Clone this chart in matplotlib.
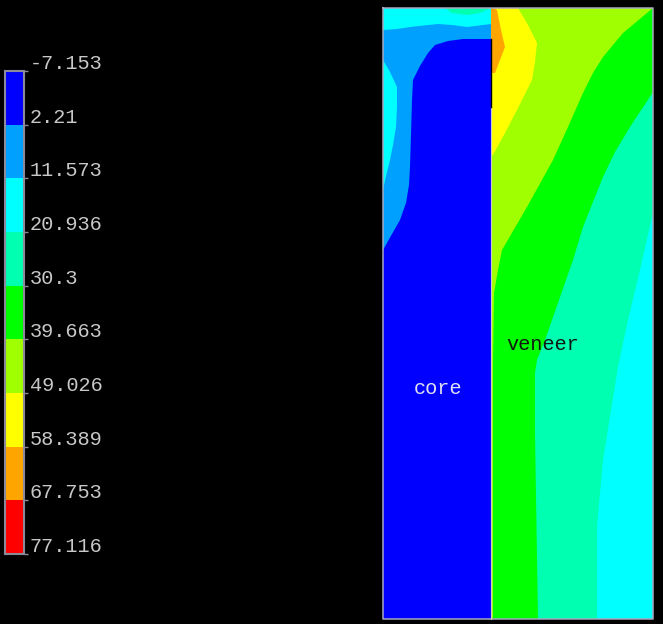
import matplotlib
matplotlib.use('Agg')
import matplotlib.pyplot as plt
from matplotlib.transforms import ScaledTranslation

# contour levels and colours of the legend
levels = [-7.153, 2.21, 11.573, 20.936, 30.3, 39.663, 49.026, 58.389, 67.753, 77.116]
labels = ['-7.153', '2.21', '11.573', '20.936', '30.3', '39.663', '49.026', '58.389', '67.753', '77.116']
colors = ['#0000FF', '#00A0FF', '#00FFFF', '#00FFB0', '#00FF00', '#A0FF00', '#FFFF00', '#FFA500', '#FF0000']

# plate outline
left, middle, right = 383, 491, 653
top, bottom = 8, 619

# core contour boundaries (x, y)
core_teal_x = [445, 452, 467, 480, 491]
core_teal_y = [8, 13, 15, 13, 8]
core_cyan_x = [383, 397, 410, 438, 452, 467, 491]
core_cyan_y = [30, 29, 27, 24, 25, 27, 24]
core_blue_x = [491, 463, 448, 435, 428, 420, 413, 412, 411, 410, 409, 406, 400, 392, 383]
core_blue_y = [39, 39, 41, 45, 53, 66, 80, 100, 135, 167, 185, 203, 220, 234, 250]
core_sliver_x = [383, 390, 397, 397, 396, 393, 390, 386, 383]
core_sliver_y = [60, 72, 87, 107, 127, 145, 160, 176, 190]

# veneer contour boundaries (x, y)
orange_x = [493, 497, 501, 505, 500, 495, 491]
orange_y = [8, 10, 30, 47, 60, 73, 73]
yellow_x = [518, 528, 537, 535, 532, 517, 505, 493]
yellow_y = [8, 25, 43, 62, 80, 110, 133, 155]
lime_x = [653, 623, 603, 593, 583, 568, 553, 527, 502, 498, 494, 493]
lime_y = [8, 33, 57, 73, 93, 127, 160, 207, 250, 270, 293, 363]
green_x = [653, 630, 615, 603, 583, 573, 559, 545, 537, 535, 535, 538]
green_y = [92, 127, 152, 177, 227, 260, 300, 340, 360, 373, 433, 619]
teal_x = [653, 640, 628, 618, 603, 597, 597]
teal_y = [213, 270, 320, 367, 460, 527, 619]

fig = plt.figure(figsize=(6.63, 6.24), dpi=100, facecolor='black')
ax = fig.add_axes([0, 0, 1, 1])
ax.set_xlim(0, 663)
ax.set_ylim(624, 0)
ax.axis('off')

# core, coolest on top
ax.fill([left, middle, middle, left], [top, top, bottom, bottom], color=colors[2], lw=0)
ax.fill([left] + core_cyan_x + [middle, left], [core_cyan_y[0]] + core_cyan_y + [bottom, bottom],
        color=colors[1], lw=0)
ax.fill(core_teal_x, core_teal_y, color=colors[3], lw=0)
ax.fill(core_sliver_x, core_sliver_y, color=colors[2], lw=0)
ax.fill(core_blue_x + [left, middle], core_blue_y + [bottom, bottom], color=colors[0], lw=0)

# veneer
ax.fill([middle, right, right, middle], [top, top, bottom, bottom], color=colors[5], lw=0)
ax.fill([middle] + yellow_x + [middle], [top] + yellow_y + [yellow_y[-1]], color=colors[6], lw=0)
ax.fill([middle] + orange_x, [top] + orange_y, color=colors[7], lw=0)
ax.fill([middle + 2] + lime_x[::-1] + [right, right], [bottom] + lime_y[::-1] + [top, bottom],
        color=colors[4], lw=0)
ax.fill(green_x + [right], green_y + [bottom], color=colors[3], lw=0)
ax.fill(teal_x + [right], teal_y + [bottom], color=colors[2], lw=0)

ax.plot([left, right, right, left, left], [top, top, bottom, bottom, top], color='#A8A8C0', lw=1.1)
ax.plot([middle, middle], [107, bottom], color='#C8C8D0', lw=0.8)
ax.plot([middle, middle], [39, 107], color='black', lw=1.0)

ax.text(438, 388, 'core', color='#E0E0F0', family='Liberation Mono', fontsize=14.6, ha='center', va='center')
ax.text(543, 344, 'veneer', color='#101810', family='Liberation Mono', fontsize=14.6, ha='center', va='center')

# legend bar
cax = fig.add_axes([5 / 663, 1 - 554 / 624, 19 / 663, 483 / 624])
cax.set_facecolor('black')
cax.set_xlim(0, 1)
cax.set_ylim(levels[-1], levels[0])
cax.bar([0.5] * len(colors), [b - a for a, b in zip(levels[:-1], levels[1:])], width=1,
        bottom=levels[:-1], color=colors, lw=0)
for s in cax.spines.values():
    s.set_color('#8A8A9A')
    s.set_linewidth(1.5)
cax.set_xticks([])
cax.yaxis.tick_right()
cax.set_yticks(levels)
cax.set_yticklabels(labels, color='#C8C8C8', family='Liberation Mono', fontsize=14.6, va='bottom')
cax.tick_params(axis='y', length=3, width=1, color='#8A8A9A', pad=1)
for t in cax.get_yticklabels():
    t.set_transform(t.get_transform() + ScaledTranslation(0, -2 / 100, fig.dpi_scale_trans))

fig.savefig('out.png', dpi=100, facecolor='black')
